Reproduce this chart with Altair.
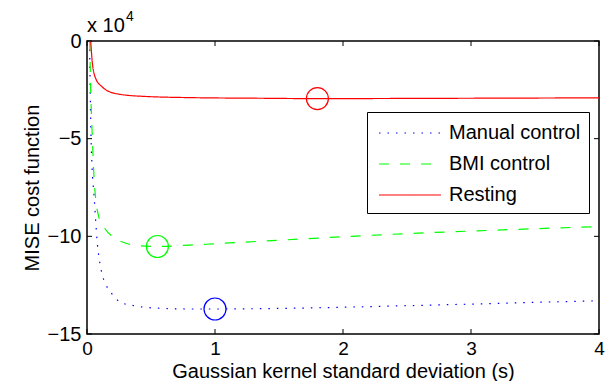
import altair as alt
import pandas as pd

SERIES = ["Manual control", "BMI control", "Resting"]
COLORS = ["#0000ff", "#00ff00", "#ff0000"]
DASHES = [[1.5, 7], [10, 11], [1, 0]]

X_MANUAL = [0.02, 0.025, 0.03, 0.04, 0.055, 0.08, 0.11, 0.15, 0.19, 0.26, 0.35, 0.45, 0.6, 0.8, 1.0, 1.4, 2.0, 2.5, 3.0, 3.5, 4.0]
Y_MANUAL = [0.0, -2.5, -4.5, -6.5, -7.9, -10.3, -11.7, -12.5, -12.9, -13.37, -13.53, -13.63, -13.69, -13.72, -13.72, -13.70, -13.63, -13.55, -13.47, -13.38, -13.3]

X_BMI = [0.022, 0.027, 0.035, 0.042, 0.055, 0.07, 0.09, 0.13, 0.22, 0.39, 0.55, 0.8, 1.0, 1.5, 2.0, 2.5, 3.0, 3.5, 4.0]
Y_BMI = [0.0, -2.0, -3.8, -5.0, -7.0, -8.2, -8.95, -9.5, -10.1, -10.47, -10.52, -10.45, -10.38, -10.2, -10.02, -9.86, -9.73, -9.61, -9.5]

X_REST = [0.029, 0.041, 0.068, 0.119, 0.223, 0.428, 0.817, 1.34, 1.8, 2.5, 3.0, 4.0]
Y_REST = [0.0, -1.07, -1.92, -2.35, -2.69, -2.83, -2.90, -2.93, -2.95, -2.94, -2.93, -2.91]

MIN_X = [1.0, 0.55, 1.8]
MIN_Y = [-13.72, -10.52, -2.95]

X_TICKS = [0, 1, 2, 3, 4]
Y_TICKS = [-15, -10, -5, 0]

rows = []
for name, xs, ys in zip(SERIES, [X_MANUAL, X_BMI, X_REST], [Y_MANUAL, Y_BMI, Y_REST]):
    for x, y in zip(xs, ys):
        rows.append({"series": name, "x": x, "y": y})
lines_df = pd.DataFrame(rows)
min_df = pd.DataFrame({"series": SERIES, "x": MIN_X, "y": MIN_Y, "col": COLORS})
xt_df = pd.DataFrame({"t": X_TICKS})
yt_df = pd.DataFrame({"t": Y_TICKS})

W, H = 512, 293
FONT = "Liberation Sans"

xscale = alt.Scale(domain=[0, 4], nice=False, zero=False)
yscale = alt.Scale(domain=[-15, 0], nice=False, zero=False)

leg = alt.Legend(
    orient="none", legendX=280, legendY=71, title=None,
    symbolType="M-2.583,0H2.583", symbolSize=576, symbolStrokeWidth=1.2, symbolOffset=22,
    labelFont=FONT, labelFontSize=20, labelColor="black", labelLimit=400,
    labelExpr="datum.label + '  '",
    padding=8, rowPadding=8, labelOffset=26,
    strokeColor="black", fillColor="white", cornerRadius=0,
)

axis_common = dict(domain=False, ticks=False, grid=False, labelFlush=False,
                   labelFont=FONT, labelColor="black",
                   titleFont=FONT, titleFontSize=20, titleFontWeight="normal", titleColor="black")

lines = alt.Chart(lines_df).mark_line(strokeWidth=1.2, clip=True, interpolate="monotone").encode(
    x=alt.X("x:Q", scale=xscale, axis=alt.Axis(values=X_TICKS, format="d", labelFontSize=19,
                                               title="Gaussian kernel standard deviation (s)",
                                               labelPadding=5, titleY=43, titleBaseline="alphabetic",
                                               **axis_common)),
    y=alt.Y("y:Q", scale=yscale, axis=alt.Axis(values=Y_TICKS, format="d", labelFontSize=20,
                                               title="MISE cost function",
                                               labelPadding=6, titlePadding=5, **axis_common)),
    color=alt.Color("series:N", scale=alt.Scale(domain=SERIES, range=COLORS), legend=leg, title=None),
    strokeDash=alt.StrokeDash("series:N", scale=alt.Scale(domain=SERIES, range=DASHES), legend=leg, title=None),
)

points = alt.Chart(min_df).mark_point(shape="circle", size=484, filled=False, strokeWidth=1.2, opacity=1).encode(
    x=alt.X("x:Q", scale=xscale),
    y=alt.Y("y:Q", scale=yscale),
    stroke=alt.Stroke("col:N", scale=None),
)

tick_len = 5
xt_bot = alt.Chart(xt_df).mark_rule(color="black", strokeWidth=1).encode(
    x=alt.X("t:Q", scale=xscale), y=alt.value(H), y2=alt.value(H - tick_len))
xt_top = alt.Chart(xt_df).mark_rule(color="black", strokeWidth=1).encode(
    x=alt.X("t:Q", scale=xscale), y=alt.value(0), y2=alt.value(tick_len))
yt_left = alt.Chart(yt_df).mark_rule(color="black", strokeWidth=1).encode(
    y=alt.Y("t:Q", scale=yscale), x=alt.value(0), x2=alt.value(tick_len))
yt_right = alt.Chart(yt_df).mark_rule(color="black", strokeWidth=1).encode(
    y=alt.Y("t:Q", scale=yscale), x=alt.value(W), x2=alt.value(W - tick_len))

mult = alt.Chart(pd.DataFrame({"t": ["x 10"]})).mark_text(
    align="left", baseline="alphabetic", font=FONT, fontSize=20, color="black").encode(
    x=alt.value(0), y=alt.value(-9), text="t:N")
expo = alt.Chart(pd.DataFrame({"t": ["4"]})).mark_text(
    align="left", baseline="alphabetic", font=FONT, fontSize=14, color="black").encode(
    x=alt.value(39), y=alt.value(-20), text="t:N")

chart = alt.layer(lines, points, xt_bot, xt_top, yt_left, yt_right, mult, expo).properties(
    width=W, height=H,
    background="white",
    autosize=alt.AutoSizeParams(type="none"),
    padding={"left": 79, "top": 33, "right": 6, "bottom": 47},
).configure_view(stroke="black", strokeWidth=1.5)

chart.save("out.html", embed_options={"renderer": "svg", "actions": False})
